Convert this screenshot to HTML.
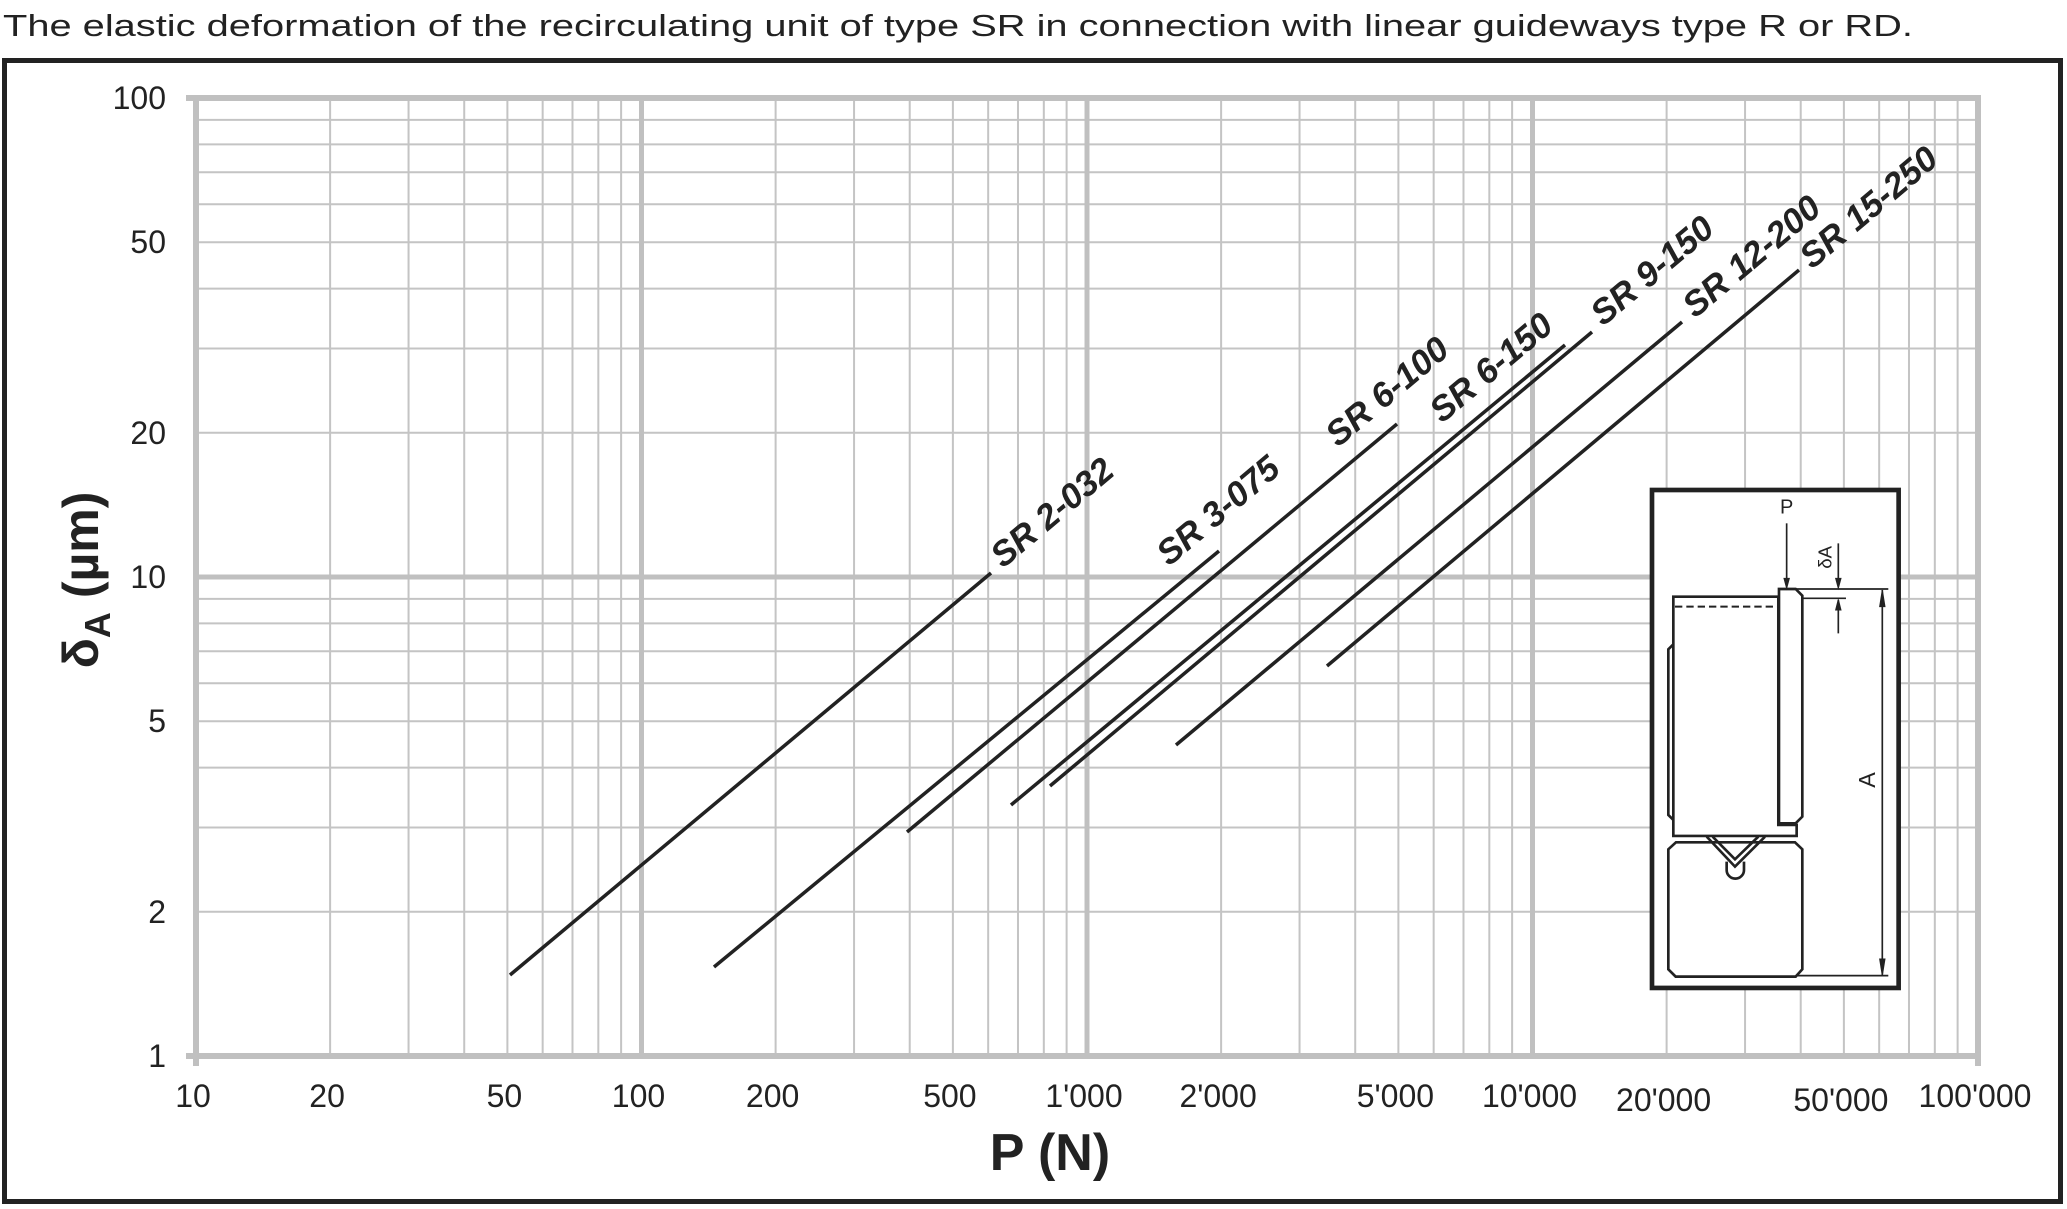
<!DOCTYPE html>
<html><head><meta charset="utf-8"><style>
html,body{margin:0;padding:0;background:#fff;}
svg{display:block;}
text{font-family:"Liberation Sans",sans-serif;fill:#222;}
</style></head><body>
<svg id="s" width="2067" height="1209" viewBox="0 0 2067 1209" xmlns="http://www.w3.org/2000/svg">
<text x="3" y="36" font-size="31" textLength="1910" lengthAdjust="spacingAndGlyphs">The elastic deformation of the recirculating unit of type SR in connection with linear guideways type R or RD.</text>
<rect x="4.5" y="60.5" width="2056" height="1141" fill="none" stroke="#222" stroke-width="5"/>
<g id="grid"></g>
<g id="series" stroke="#222" stroke-width="3.5" fill="none">
<line x1="510" y1="975" x2="991" y2="573"/>
<line x1="714" y1="967" x2="1219" y2="551"/>
<line x1="907" y1="832" x2="1397" y2="424"/>
<line x1="1011" y1="805" x2="1565" y2="345"/>
<line x1="1050" y1="786" x2="1592" y2="332"/>
<line x1="1176" y1="745" x2="1682" y2="322"/>
<line x1="1327" y1="666" x2="1799" y2="270"/>
</g>
<g font-size="35" font-weight="bold" font-style="italic">
<text transform="translate(1003,569) rotate(-40)">SR 2-032</text>
<text transform="translate(1169,567) rotate(-40)">SR 3-075</text>
<text transform="translate(1338,448) rotate(-40)">SR 6-100</text>
<text transform="translate(1442,424) rotate(-40)">SR 6-150</text>
<text transform="translate(1603,327) rotate(-40)">SR 9-150</text>
<text transform="translate(1695,319) rotate(-40)">SR 12-200</text>
<text transform="translate(1812,270) rotate(-40)">SR 15-250</text>
</g>
<text x="1050" y="1170" font-size="52" font-weight="bold" text-anchor="middle">P (N)</text>
<text transform="translate(98,580) rotate(-90)" font-size="50" font-weight="bold" text-anchor="middle">δ<tspan font-size="36" dy="12">A</tspan><tspan dy="-12"> (µm)</tspan></text>
<g transform="translate(1630,480) scale(0.3333)" fill="none" stroke="#222" stroke-width="8">
<rect x="66" y="30" width="740" height="1494" fill="#fff" stroke-width="14"/>
<path d="M130,350 H445 V1035 H500 V1068 H130 Z"/>
<path d="M447,327 H497 L517,347 V1010 L497,1030 H447 Z"/>
<path d="M135,380 H445" stroke-dasharray="22,12" stroke-width="6"/>
<path d="M130,493 L115,508 V1005 L130,1020"/>
<path d="M138,1087 H495 L517,1108 V1468 L497,1490 H137 L115,1468 V1108 Z"/>
<path d="M230,1070 L315,1160 L405,1070 M248,1070 L315,1138 L385,1070"/>
<path d="M290,1145 V1170 A26,26 0 0 0 342,1170 V1145"/>
<path d="M470,130 V300" stroke-width="5"/>
<path d="M462,295 L470,325 L478,295 Z" fill="#222" stroke-width="3"/>
<path d="M625,190 V300 M625,360 V460" stroke-width="5"/>
<path d="M617,295 L625,325 L633,295 Z M617,390 L625,358 L633,390 Z" fill="#222" stroke-width="3"/>
<path d="M497,327 H775 M517,355 H648 M497,1487 H775" stroke-width="5"/>
<path d="M757,330 V1487" stroke-width="5"/>
<path d="M749,380 L757,330 L765,380 Z M749,1437 L757,1487 L765,1437 Z" fill="#222" stroke-width="3"/>
</g>
<g transform="translate(1630,480) scale(0.3333)" stroke="none">
<text x="470" y="100" font-size="60" text-anchor="middle" style="fill:#222">P</text>
<text transform="translate(605,232) rotate(-90)" font-size="56" text-anchor="middle" style="fill:#222">δA</text>
<text transform="translate(735,900) rotate(-90)" font-size="70" text-anchor="middle" style="fill:#222">A</text>
</g>
</svg>
<script>
(function(){
var NS="http://www.w3.org/2000/svg",g=document.getElementById("grid");
function X(v){return 196+445.5*Math.log10(v/10);}
function Y(v){return 1056-479*Math.log10(v);}
function ln(x1,y1,x2,y2,w,c){var l=document.createElementNS(NS,"line");l.setAttribute("x1",x1);l.setAttribute("y1",y1);l.setAttribute("x2",x2);l.setAttribute("y2",y2);l.setAttribute("stroke",c);l.setAttribute("stroke-width",w);g.appendChild(l);}
function tx(x,y,s,a){var t=document.createElementNS(NS,"text");t.setAttribute("x",x);t.setAttribute("y",y);t.setAttribute("font-size","32");t.setAttribute("text-anchor",a);t.textContent=s;g.appendChild(t);}
var xl=196,xr=1978,yt=98,yb=1056;
for(var d=10;d<100000;d*=10)for(var k=2;k<10;k++){var x=X(d*k);ln(x,yt,x,yb,2,"#c4c4c4");}
for(var d=1;d<100;d*=10)for(var k=2;k<10;k++){var y=Y(d*k);ln(xl,y,xr,y,2,"#c4c4c4");}
[100,1000,10000].forEach(function(v){var x=X(v);ln(x,yt,x,yb,5,"#c0c0c0");});
ln(xl,Y(10),xr,Y(10),5,"#c0c0c0");
ln(186,yt,xr+3,yt,6,"#c0c0c0");ln(186,yb,xr+3,yb,6,"#c0c0c0");
ln(xl,yt-3,xl,yb+10,6,"#c0c0c0");ln(xr,yt-3,xr,yb+10,6,"#c0c0c0");
[[1,"1"],[2,"2"],[5,"5"],[10,"10"],[20,"20"],[50,"50"],[100,"100"]].forEach(function(a){tx(166,Y(a[0])+11,a[1],"end");});
[[10,"10",0],[20,"20",0],[50,"50",0],[100,"100",0],[200,"200",0],[500,"500",0],[1000,"1'000",0],[2000,"2'000",0],[5000,"5'000",0],[10000,"10'000",0],[20000,"20'000",4],[50000,"50'000",4],[100000,"100'000",0]].forEach(function(a){tx(X(a[0])-3,1107+a[2],a[1],"middle");});
})();
</script>
</body></html>
